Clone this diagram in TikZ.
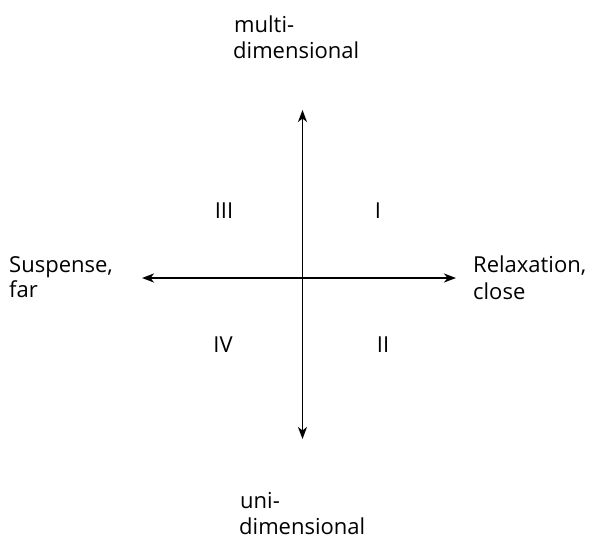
\documentclass[tikz,border=0pt]{standalone}
\usepackage{fontspec}
\setmainfont{Open Sans}
\usetikzlibrary{arrows.meta}
\begin{document}
\begin{tikzpicture}[x=1pt,y=-1pt,
  lbl/.style={anchor=base west,inner sep=0pt,font=\fontsize{22}{26}\selectfont},
  num/.style={anchor=base,inner sep=0pt,font=\fontsize{22}{26}\selectfont},
  axis/.style={line width=1.8pt,-{Stealth[length=12pt,width=9pt,inset=3.5pt]}}]
\useasboundingbox (0,0) rectangle (590,538);
\coordinate (c) at (302.5,278);
\coordinate (top) at (302.5,110);
\coordinate (bot) at (302.5,439);
\coordinate (lft) at (142,278);
\coordinate (rgt) at (456,278);
\draw[axis] (c) -- (top);
\draw[axis] (c) -- (bot);
\draw[axis] (c) -- (lft);
\draw[axis] (c) -- (rgt);
\node[lbl] (m1) at (234,32) {multi-};
\node[lbl] (m2) at (233,58) {dimensional};
\node[lbl] (u1) at (240,508) {uni-};
\node[lbl] (u2) at (239,534) {dimensional};
\node[lbl] (s1) at (9,272) {Suspense,};
\node[lbl] (s2) at (9,297) {far};
\node[lbl] (r1) at (473,272) {Relaxation,};
\node[lbl] (r2) at (473,299) {close};
\node[num] (q3) at (224,218) {III};
\node[num] (q1) at (378,218) {I};
\node[num] (q4) at (223,352) {IV};
\node[num] (q2) at (383,352) {II};
\end{tikzpicture}
\end{document}
